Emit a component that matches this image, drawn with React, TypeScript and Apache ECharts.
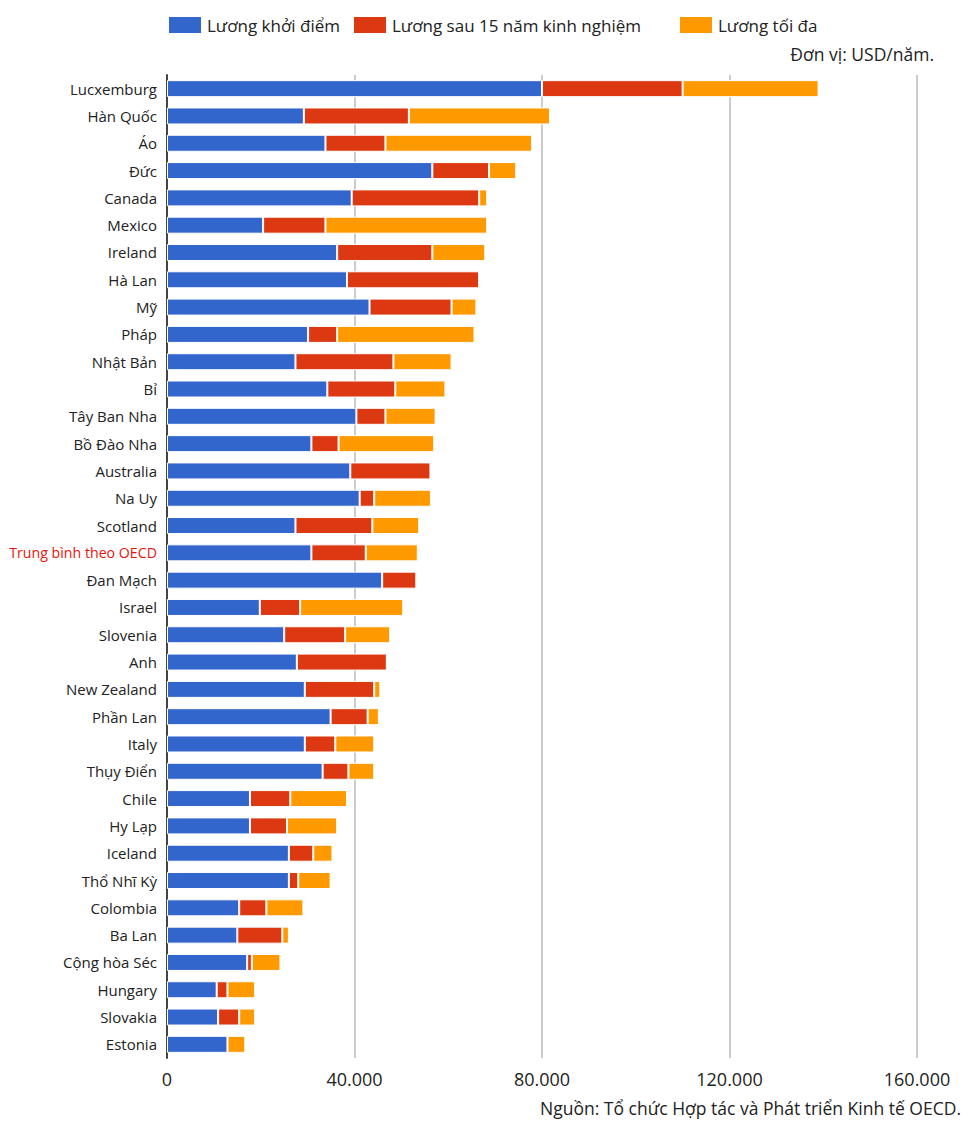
import React, { useEffect, useRef } from "react";
import * as echarts from "echarts";

const countries = [
  "Lucxemburg", "Hàn Quốc", "Áo", "Đức", "Canada", "Mexico", "Ireland", "Hà Lan",
  "Mỹ", "Pháp", "Nhật Bản", "Bỉ", "Tây Ban Nha", "Bồ Đào Nha", "Australia", "Na Uy",
  "Scotland", "Trung bình theo OECD", "Đan Mạch", "Israel", "Slovenia", "Anh",
  "New Zealand", "Phần Lan", "Italy", "Thụy Điển", "Chile", "Hy Lạp", "Iceland",
  "Thổ Nhĩ Kỳ", "Colombia", "Ba Lan", "Cộng hòa Séc", "Hungary", "Slovakia", "Estonia",
];

// starting salary
const startSalary = [
  80000, 29200, 33800, 56600, 39400, 20500, 36300, 38400,
  43200, 30100, 27400, 34200, 40400, 30800, 39100, 41100,
  27400, 30800, 45900, 19800, 25000, 27700,
  29400, 34900, 29400, 33200, 17700, 17700, 26000,
  26000, 15400, 15000, 17100, 10600, 10900, 12900,
];

// increase after 15 years of experience
const after15Years = [
  30000, 22400, 12800, 12100, 27200, 13300, 20300, 28200,
  17500, 6200, 20900, 14500, 6200, 5800, 17100, 3100,
  16400, 11600, 7300, 8600, 13000, 19200,
  14800, 7900, 6500, 5500, 8600, 7900, 5200,
  2000, 5800, 9600, 1000, 2300, 4500, 0,
];

// increase up to the maximum
const maxSalary = [
  29000, 30100, 31300, 5800, 1700, 34500, 11300, 0,
  5300, 29300, 12400, 10700, 10700, 20400, 200, 12100,
  10000, 11100, 0, 22000, 9600, 0,
  1300, 2400, 8300, 5500, 12100, 10700, 4100,
  6900, 7900, 1400, 6100, 5900, 3400, 3800,
];

const seriesNames = ["Lương khởi điểm", "Lương sau 15 năm kinh nghiệm", "Lương tối đa"];
const colors = ["#3366cc", "#dc3912", "#ff9900"];
const legendLeft = [162, 347, 673];

const FONT = "'Open Sans', sans-serif";

const App = () => {
  const chartRef = useRef<HTMLDivElement>(null);

  useEffect(() => {
    if (!chartRef.current) return;
    const chart = echarts.init(chartRef.current, null, { renderer: "svg" });

    const fmt = (v: number) => String(v).replace(/\B(?=(\d{3})+(?!\d))/g, ".");

    const option: echarts.EChartsOption = {
      animation: false,
      color: colors,
      textStyle: { fontFamily: FONT },
      legend: seriesNames.map((name, i) => ({
        top: 10,
        left: legendLeft[i],
        itemWidth: 34,
        itemHeight: 18,
        icon: "rect",
        textStyle: { fontSize: 17, color: "#222", fontFamily: FONT },
        data: [name],
      })),
      grid: { left: 167, right: 63, top: 75, bottom: 72, outerBoundsMode: "none" } as any,
      xAxis: {
        type: "value",
        min: 0,
        max: 160000,
        interval: 40000,
        axisLine: { show: false },
        axisTick: { show: false },
        splitLine: { lineStyle: { color: "#cccccc", width: 2 } },
        axisLabel: {
          fontSize: 18,
          color: "#222",
          margin: 12,
          formatter: (v: number) => fmt(v),
        },
      },
      yAxis: {
        type: "category",
        inverse: true,
        data: countries,
        axisLine: { lineStyle: { color: "#444", width: 2 } },
        axisTick: { show: false },
        axisLabel: {
          fontSize: 15,
          color: "#222",
          margin: 10,
          formatter: (v: string) => (v === "Trung bình theo OECD" ? `{red|${v}}` : v),
          rich: { red: { color: "#e8140c", fontSize: 14.2, fontFamily: FONT } },
        },
      },
      series: [startSalary, after15Years, maxSalary].map((d, i) => ({
        name: seriesNames[i],
        type: "bar" as const,
        stack: "total",
        barWidth: 17,
        data: d,
        itemStyle: { borderColor: "#ffffff", borderWidth: 1 },
      })),
      graphic: [
        {
          type: "text",
          right: 46,
          top: 45,
          style: { text: "Đơn vị: USD/năm.", fill: "#222", font: `17.5px ${FONT}` },
        },
        {
          type: "text",
          right: 19,
          top: 1099,
          style: {
            text: "Nguồn: Tổ chức Hợp tác và Phát triển Kinh tế OECD.",
            fill: "#222",
            font: `17.5px ${FONT}`,
          },
        },
      ],
    };

    chart.setOption(option);
    return () => chart.dispose();
  }, []);

  return <div ref={chartRef} style={{ width: 980, height: 1130, margin: -8 }} />;
};

export default App;
